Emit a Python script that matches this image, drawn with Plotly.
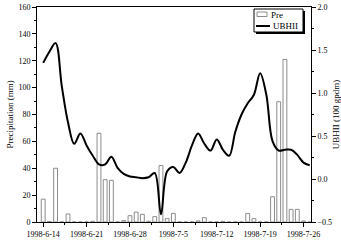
import plotly.graph_objects as go
import pandas as pd

start_date = "1998-06-14"
n_days = 44

# Daily precipitation (mm), 1998-6-14 .. 1998-7-27
pre = [17, 0.3, 40, 0, 6, 0, 0, 0, 0.5, 66, 31.5, 31, 0, 1, 4.7, 7.4, 5.7, 0.5, 4, 42,
       2.5, 6.4, 0, 0, 0, 0.8, 3.2, 0, 0, 0.5, 0, 0, 0, 6.4, 2.5, 0, 0, 18.8, 89.5, 121,
       9.4, 9.4, 0.7, 0]

# UBHII (100 gpdm)
ubhii = [1.35, 1.48, 1.58, 1.08, 0.66, 0.41, 0.53, 0.39, 0.27, 0.17, 0.17, 0.26, 0.13, 0.06,
         0.03, 0.02, 0.01, 0.02, 0.07, -0.41, 0.09, 0.14, 0.07, 0.19, 0.39, 0.53, 0.41, 0.33,
         0.46, 0.34, 0.27, 0.55, 0.75, 0.88, 0.98, 1.23, 0.98, 0.44, 0.33, 0.34, 0.34, 0.28,
         0.19, 0.16]

legend_labels = ["Pre", "UBHII"]

dates = pd.date_range(start_date, periods=n_days, freq="D")
DAY = 86400000

W, H = 341, 241
ML, MR, MT, MB = 37, 30, 7, 19
PW, PH = W - ML - MR, H - MT - MB


def px(x):
    return (x - ML) / PW


def py(y):
    return (H - MB - y) / PH


serif = "Liberation Serif, Times New Roman, serif"
font = dict(family=serif, size=8, color="black")
tfont = dict(family=serif, size=9, color="black")

fig = go.Figure()
fig.add_trace(go.Bar(x=dates, y=pre, name=legend_labels[0], width=[0.62 * DAY] * n_days,
                     marker=dict(color="white", line=dict(color="#8c8c8c", width=1)),
                     xaxis="x", yaxis="y", showlegend=False))
fig.add_trace(go.Scatter(x=dates, y=ubhii, name=legend_labels[1], mode="lines",
                         line=dict(color="black", width=2, shape="spline", smoothing=1.0),
                         xaxis="x", yaxis="y2", showlegend=False))

# legend drawn as a framed box with shadow
shapes = [
    dict(type="rect", xref="paper", yref="paper", x0=px(256), x1=px(305), y0=py(34), y1=py(11),
         fillcolor="black", line=dict(width=0), layer="above"),
    dict(type="rect", xref="paper", yref="paper", x0=px(254), x1=px(303), y0=py(32), y1=py(9),
         fillcolor="white", line=dict(color="black", width=1), layer="above"),
    dict(type="rect", xref="paper", yref="paper", x0=px(257), x1=px(267), y0=py(16.5), y1=py(12),
         fillcolor="white", line=dict(color="#8c8c8c", width=1), layer="above"),
    dict(type="line", xref="paper", yref="paper", x0=px(256), x1=px(270), y0=py(26), y1=py(26),
         line=dict(color="black", width=2), layer="above"),
]
annotations = [
    dict(text=legend_labels[0], xref="paper", yref="paper", x=px(269), y=py(15),
         xanchor="left", yanchor="middle", showarrow=False, font=tfont),
    dict(text=legend_labels[1], xref="paper", yref="paper", x=px(270.5), y=py(26),
         xanchor="left", yanchor="middle", showarrow=False, font=tfont),
]

rng = ["1998-06-13", "1998-07-27 05:00"]
fig.update_layout(
    width=W, height=H,
    margin=dict(l=ML, r=MR, t=MT, b=MB),
    paper_bgcolor="white", plot_bgcolor="white",
    font=font,
    showlegend=False,
    bargap=0,
    shapes=shapes,
    annotations=annotations,
    xaxis=dict(type="date", range=rng, tickformat="%Y-%-m-%-d", automargin=False,
               tick0="1998-06-14", dtick=7 * DAY, ticks="outside", ticklen=4,
               tickcolor="black", showline=True, linecolor="black", linewidth=1,
               mirror=True, showgrid=False, zeroline=False,
               minor=dict(dtick=3.5 * DAY, tick0="1998-06-14", ticks="outside",
                          ticklen=2, tickcolor="black", showgrid=False),
               tickfont=font),
    xaxis2=dict(type="date", range=rng, overlaying="x", side="top", matches="x",
                automargin=False,
                tick0="1998-06-14", dtick=7 * DAY, ticks="inside", ticklen=4,
                tickcolor="black", showticklabels=False, showgrid=False,
                zeroline=False, showline=False,
                minor=dict(dtick=3.5 * DAY, tick0="1998-06-14", ticks="inside",
                           ticklen=2, tickcolor="black", showgrid=False)),
    yaxis=dict(range=[0, 160], dtick=20, ticks="outside", ticklen=4, tickcolor="black",
               automargin=False,
               showline=True, linecolor="black", linewidth=1, showgrid=False,
               zeroline=False,
               minor=dict(dtick=10, ticks="outside", ticklen=2, tickcolor="black",
                          showgrid=False),
               title=dict(text="Precipitation (mm)", font=tfont, standoff=3),
               tickfont=font),
    yaxis2=dict(range=[-0.5, 2.0], dtick=0.5, tickformat=".1f", overlaying="y",
                automargin=False,
                side="right", ticks="outside", ticklen=4, tickcolor="black",
                showline=True, linecolor="black", linewidth=1, showgrid=False,
                zeroline=False,
                minor=dict(dtick=0.25, ticks="outside", ticklen=2, tickcolor="black",
                           showgrid=False),
                title=dict(text="UBHII (100 gpdm)", font=tfont, standoff=3),
                tickfont=font),
)

fig.write_html("out.html", config={"displayModeBar": False, "staticPlot": True},
               post_script="document.body.style.margin='0';document.body.style.overflow='hidden';")
